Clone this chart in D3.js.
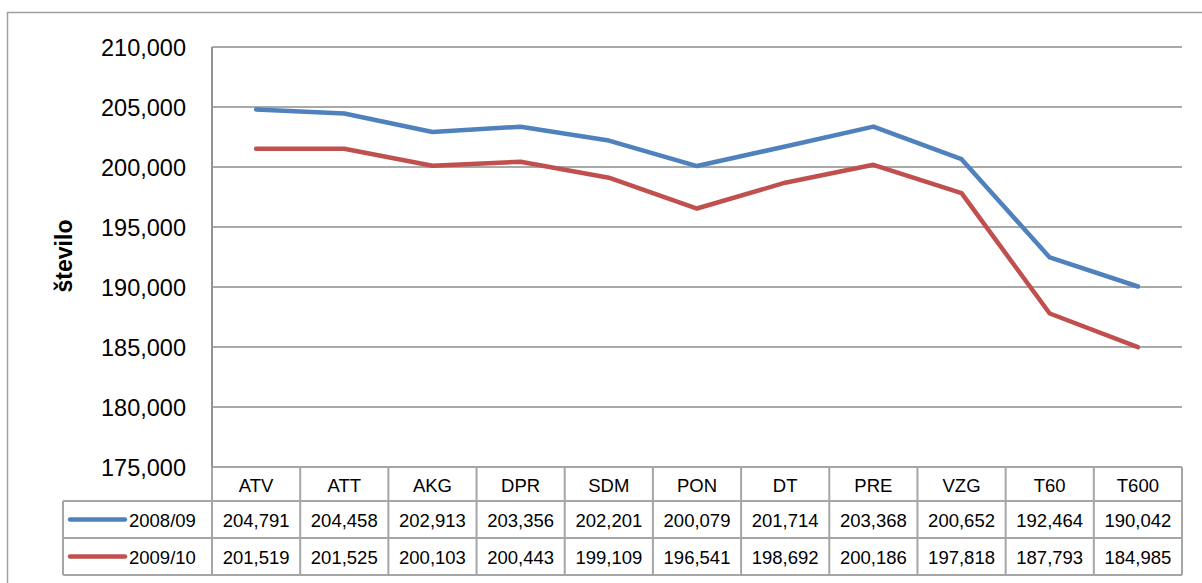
<!DOCTYPE html>
<html>
<head>
<meta charset="utf-8">
<script src="https://cdn.jsdelivr.net/npm/d3@7"></script>
<style>
  body { margin: 0; background: #fff; }
  svg { display: block; font-family: "Liberation Sans", Arial, sans-serif; }
</style>
</head>
<body>
<div id="chart"></div>
<script>
/*
 * Line chart with data table (Excel style)
 */

var categories = ["ATV", "ATT", "AKG", "DPR", "SDM", "PON", "DT", "PRE", "VZG", "T60", "T600"];
var seriesNames = ["2008/09", "2009/10"];
var values0809 = [204791, 204458, 202913, 203356, 202201, 200079, 201714, 203368, 200652, 192464, 190042];
var values0910 = [201519, 201525, 200103, 200443, 199109, 196541, 198692, 200186, 197818, 187793, 184985];
var yTicks = [175000, 180000, 185000, 190000, 195000, 200000, 205000, 210000];
var colors = ["#4F81BD", "#C0504D"];

var series = [
  { name: seriesNames[0], values: values0809, color: colors[0] },
  { name: seriesNames[1], values: values0910, color: colors[1] }
];

var width = 1202, height = 583;
var plot = { left: 212, right: 1182, top: 47, bottom: 467 };
var rowH = [34, 37, 37];
var tableLeft = 63;
var gridColor = "#8c8c8c";
var tableColor = "#a6a6a6";
var fmt = d3.format(",");

var svg = d3.select("#chart").append("svg")
  .attr("width", width).attr("height", height);

// outer chart border (right and bottom are off the page)
svg.append("rect")
  .attr("x", 7.5).attr("y", 12.5)
  .attr("width", width + 10).attr("height", height + 10)
  .style("fill", "none").style("stroke", "#a0a0a0").style("stroke-width", 1.5);

var x = d3.scaleBand().domain(categories).range([plot.left, plot.right]);
var y = d3.scaleLinear().domain([175000, 210000]).range([plot.bottom, plot.top]);

// gridlines
svg.append("g").selectAll("line").data(yTicks).enter().append("line")
  .attr("x1", plot.left).attr("x2", plot.right)
  .attr("y1", function(d){ return y(d); }).attr("y2", function(d){ return y(d); })
  .style("stroke", gridColor).style("stroke-width", 1.5);

// y axis labels
var yAxis = d3.axisLeft(y).tickValues(yTicks).tickFormat(fmt).tickSize(0).tickPadding(26);
var gy = svg.append("g").attr("transform", "translate(" + plot.left + ",0)").call(yAxis);
gy.select(".domain").remove();
gy.selectAll("text")
  .style("font-family", "'Liberation Sans', Arial, sans-serif")
  .style("font-size", "23.5px").style("fill", "#000")
  .attr("dy", "0.36em");

// axis title
svg.append("text")
  .attr("transform", "translate(72,256) rotate(-90)")
  .attr("text-anchor", "middle")
  .style("font-size", "23px").style("font-weight", "bold")
  .text("število");

// lines
var line = d3.line()
  .x(function(d, i){ return x(categories[i]) + x.bandwidth() / 2; })
  .y(function(d){ return y(d); });

svg.append("g").selectAll("path").data(series).enter().append("path")
  .attr("d", function(s){ return line(s.values); })
  .style("fill", "none")
  .style("stroke", function(s){ return s.color; })
  .style("stroke-width", 4.5)
  .style("stroke-linejoin", "round")
  .style("stroke-linecap", "round");

// data table
var t = svg.append("g");
var yRow0 = plot.bottom, yRow1 = yRow0 + rowH[0], yRow2 = yRow1 + rowH[1], yRow3 = yRow2 + rowH[2];

function hline(x1, x2, yy){
  t.append("line").attr("x1", x1).attr("x2", x2).attr("y1", yy).attr("y2", yy)
    .style("stroke", tableColor).style("stroke-width", 2);
}
function vline(xx, y1, y2){
  t.append("line").attr("x1", xx).attr("x2", xx).attr("y1", y1).attr("y2", y2)
    .style("stroke", tableColor).style("stroke-width", 2);
}

hline(plot.left, plot.right, yRow0);
hline(tableLeft, plot.right, yRow1);
hline(tableLeft, plot.right, yRow2);
hline(tableLeft, plot.right, yRow3);
vline(tableLeft, yRow1, yRow3);
vline(plot.left, plot.top, yRow3);
categories.forEach(function(c){
  vline(x(c) + x.bandwidth(), yRow0, yRow3);
});

// left axis line over the plot
svg.append("line").attr("x1", plot.left).attr("x2", plot.left)
  .attr("y1", plot.top).attr("y2", plot.bottom)
  .style("stroke", gridColor).style("stroke-width", 1.5);

// header
t.append("g").selectAll("text").data(categories).enter().append("text")
  .attr("x", function(c){ return x(c) + x.bandwidth() / 2; })
  .attr("y", yRow0 + 25)
  .attr("text-anchor", "middle")
  .style("font-size", "18.5px")
  .text(function(c){ return c; });

// series rows
series.forEach(function(s, k){
  var top = k === 0 ? yRow1 : yRow2;
  var cy = top + rowH[k + 1] / 2;
  t.append("line")
    .attr("x1", 70).attr("x2", 125).attr("y1", cy).attr("y2", cy)
    .style("stroke", s.color).style("stroke-width", 4.5).style("stroke-linecap", "round");
  t.append("text")
    .attr("x", 129).attr("y", cy + 7)
    .style("font-size", "18.5px")
    .text(s.name);
  t.append("g").selectAll("text").data(s.values).enter().append("text")
    .attr("x", function(d, i){ return x(categories[i]) + x.bandwidth() / 2; })
    .attr("y", cy + 7)
    .attr("text-anchor", "middle")
    .style("font-size", "18.5px")
    .text(function(d){ return fmt(d); });
});
</script>
</body>
</html>
